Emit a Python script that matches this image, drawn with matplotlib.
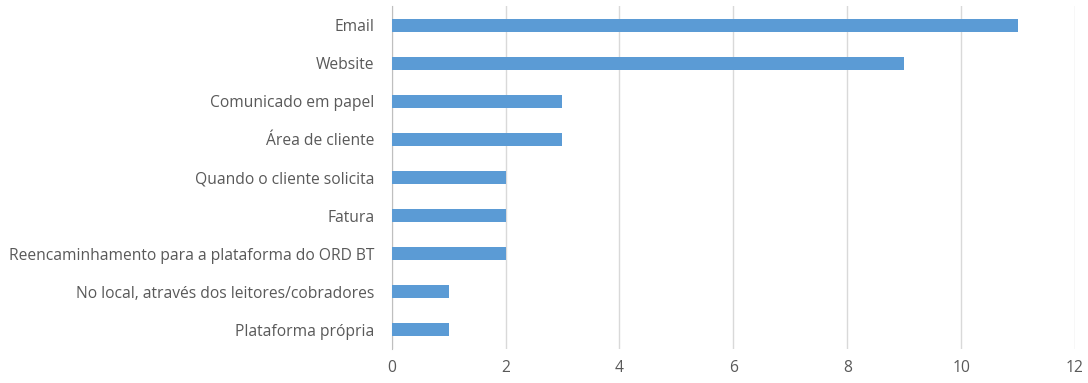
import matplotlib
matplotlib.use("Agg")
import matplotlib.pyplot as plt

categories = ["Email", "Website", "Comunicado em papel", "Área de cliente",
              "Quando o cliente solicita", "Fatura",
              "Reencaminhamento para a plataforma do ORD BT",
              "No local, através dos leitores/cobradores", "Plataforma própria"]
values = [11, 9, 3, 3, 2, 2, 2, 1, 1]
xticks = [0, 2, 4, 6, 8, 10, 12]

plt.rcParams['font.family'] = ['Open Sans', 'DejaVu Sans']
fig = plt.figure(figsize=(10.88, 3.83), dpi=100)
ax = fig.add_axes([0.360, 0.089, 0.628, 0.895])

pos = list(range(len(categories)))[::-1]
ax.barh(pos, values, height=0.34, color="#5B9BD5", zorder=3)
ax.set_xlim(0, 12)
ax.set_ylim(-0.5, len(categories) - 0.5)
ax.set_xticks(xticks)
ax.set_xticklabels([str(t) for t in xticks])
ax.set_yticks(pos)
ax.set_yticklabels(categories)
ax.grid(axis="x", color="#d9d9d9", linewidth=1, zorder=0)
for s in ["top", "right", "bottom"]:
    ax.spines[s].set_visible(False)
ax.spines["left"].set_color("#bfbfbf")
ax.tick_params(axis="both", length=0, colors="#595959", labelsize=11.25)
ax.tick_params(axis="y", pad=12.5)
ax.tick_params(axis="x", pad=8)
fig.savefig("out.png", dpi=100)
